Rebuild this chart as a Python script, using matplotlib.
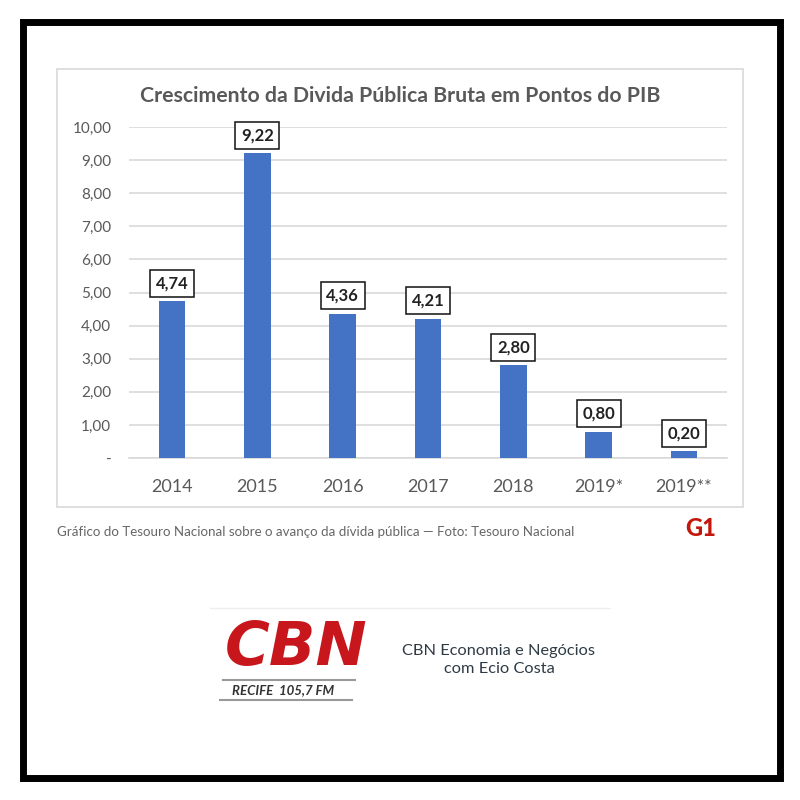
import matplotlib
matplotlib.use("Agg")
import matplotlib.pyplot as plt
from matplotlib.patches import Rectangle
from matplotlib.lines import Line2D

categories = ["2014", "2015", "2016", "2017", "2018", "2019*", "2019**"]
values = [4.74, 9.22, 4.36, 4.21, 2.80, 0.80, 0.20]
value_labels = ["4,74", "9,22", "4,36", "4,21", "2,80", "0,80", "0,20"]
yticks = [0, 1, 2, 3, 4, 5, 6, 7, 8, 9, 10]
ytick_labels = ["-", "1,00", "2,00", "3,00", "4,00", "5,00", "6,00", "7,00", "8,00", "9,00", "10,00"]
title = "Crescimento da Divida Pública Bruta em Pontos do PIB"
caption = "Gráfico do Tesouro Nacional sobre o avanço da dívida pública — Foto: Tesouro Nacional"

W = H = 800
FONT = ["Lato", "DejaVu Sans"]
GRAY = "#595959"

fig = plt.figure(figsize=(8, 8), dpi=100)
fig.patch.set_facecolor("white")

def fx(px):
    return px / W

def fy(py):
    return 1 - py / H

# outer black frame
fig.add_artist(Rectangle((fx(22.5), fy(777.5)), fx(779.5) - fx(22.5), fy(21.5) - fy(777.5),
                         transform=fig.transFigure, fill=False, edgecolor="black", linewidth=5.0))
# chart box
fig.add_artist(Rectangle((fx(57), fy(507)), fx(743) - fx(57), fy(69) - fy(507),
                         transform=fig.transFigure, fill=False, edgecolor="#d9d9d9", linewidth=1.2))

# axes
ax = fig.add_axes([fx(129.4), fy(458), fx(726.6) - fx(129.4), fy(127) - fy(458)])
x = list(range(len(categories)))
ax.bar(x, values, width=0.31, color="#4472C4", zorder=3)
ax.set_xlim(-0.5, len(categories) - 0.5)
ax.set_ylim(0, 10)
ax.set_yticks(yticks)
ax.set_yticklabels(ytick_labels, fontsize=11, color=GRAY, family=FONT)
ax.set_xticks(x)
ax.set_xticklabels(categories, fontsize=13, color=GRAY, family=FONT)
ax.tick_params(axis="both", length=0)
ax.tick_params(axis="y", pad=13)
ax.tick_params(axis="x", pad=15)
for s in ["left", "right", "top"]:
    ax.spines[s].set_visible(False)
ax.spines["bottom"].set_color("#d9d9d9")
ax.spines["bottom"].set_linewidth(1.2)
ax.grid(axis="y", color="#d9d9d9", linewidth=1.2, zorder=0)
ax.set_axisbelow(True)
ax.patch.set_alpha(0)

for xi, v, lab in zip(x, values, value_labels):
    ax.annotate(lab, (xi, v), xytext=(0, 7), textcoords="offset points",
                ha="center", va="bottom", fontsize=12, fontweight="bold", family=FONT,
                color="#222222",
                bbox=dict(boxstyle="square,pad=0.33", facecolor="white", edgecolor="#111111", linewidth=1.1))

fig.text(0.5, fy(96), title, ha="center", va="center", fontsize=15.3, fontweight="bold",
         color=GRAY, family=FONT)

fig.text(fx(57), fy(532), caption, ha="left", va="center", fontsize=9.6, color="#666666", family=FONT)
fig.text(fx(701), fy(529), "G1", ha="center", va="center", fontsize=17, fontweight="black",
         color="#C4170C", family=FONT)

# CBN block
fig.add_artist(Line2D([fx(210), fx(610)], [fy(608), fy(608)], transform=fig.transFigure,
                      color="#eeeeee", linewidth=1))
fig.text(fx(296), fy(649), "CBN", ha="center", va="center", fontsize=44, fontweight="bold",
         style="oblique", color="#C8161D", family=["DejaVu Sans"])
fig.add_artist(Line2D([fx(223), fx(355)], [fy(680), fy(680)], transform=fig.transFigure,
                      color="#999999", linewidth=1.5))
fig.add_artist(Line2D([fx(220), fx(352)], [fy(700), fy(700)], transform=fig.transFigure,
                      color="#999999", linewidth=1.5))
fig.text(fx(283), fy(690), "RECIFE  105,7 FM", ha="center", va="center", fontsize=9.5,
         fontweight="bold", style="italic", color="#333333", family=FONT)
fig.text(fx(499), fy(651), "CBN Economia e Negócios", ha="center", va="center", fontsize=11.8,
         color="#2e3b45", family=FONT)
fig.text(fx(499), fy(669), "com Ecio Costa", ha="center", va="center", fontsize=11.8,
         color="#2e3b45", family=FONT)

fig.savefig("out.png", dpi=100, facecolor="white")
